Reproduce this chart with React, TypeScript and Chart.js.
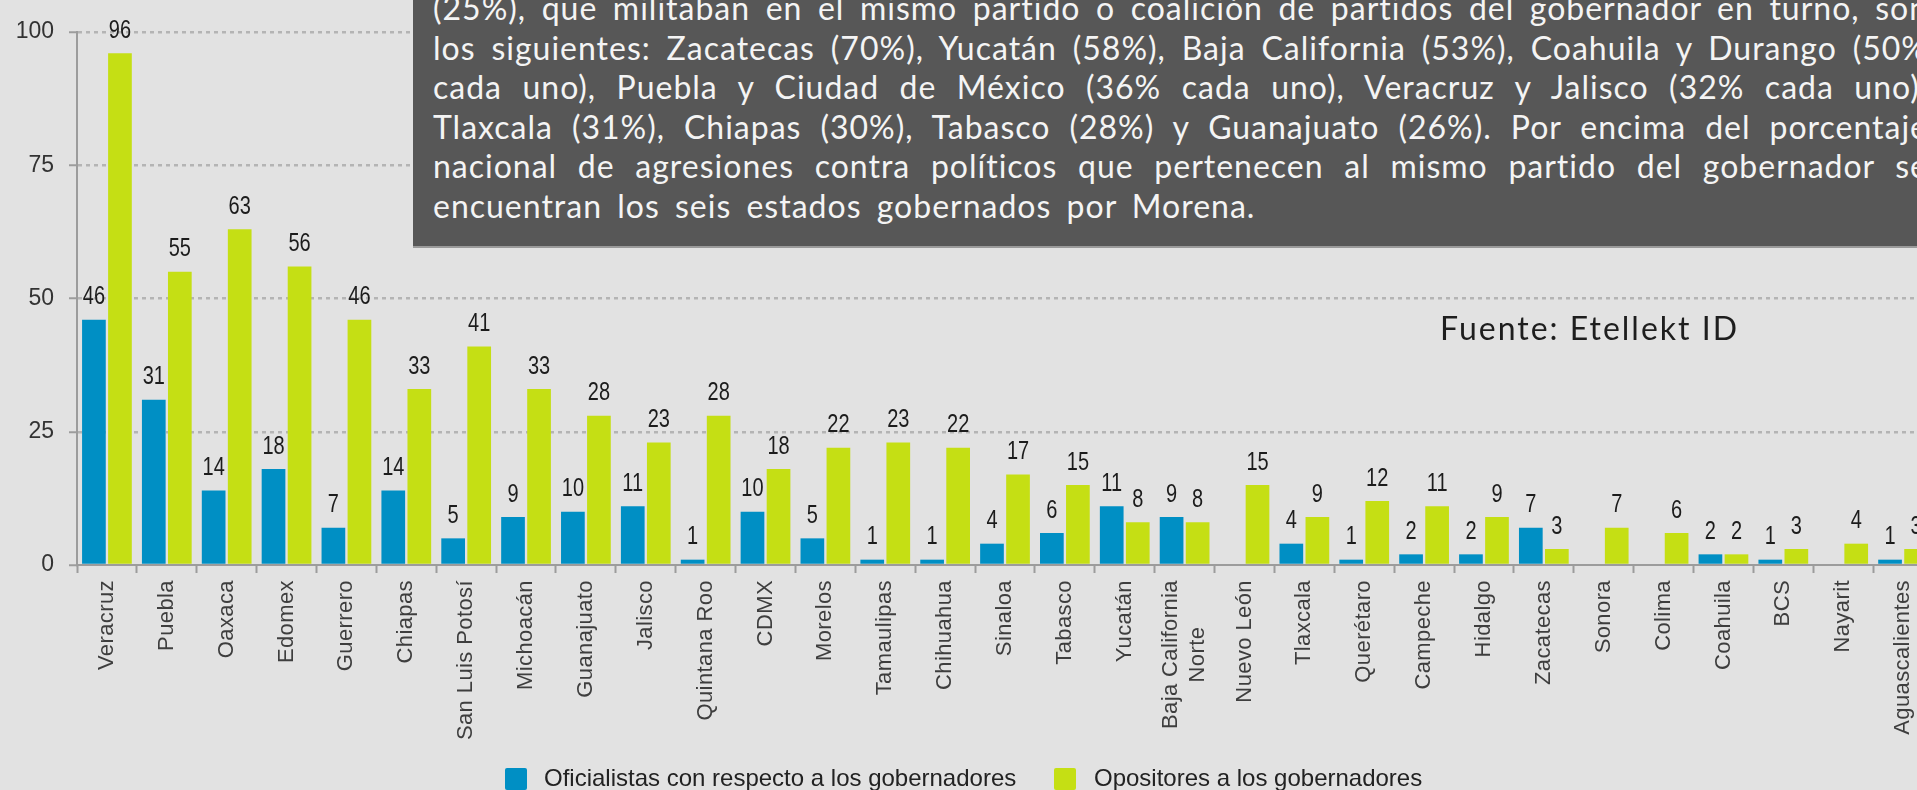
import React, { useEffect, useRef } from "react";
import { Chart, registerables } from "chart.js";

Chart.register(...registerables);

// ---------- data ----------
const categories: (string | string[])[] = [
  "Veracruz", "Puebla", "Oaxaca", "Edomex", "Guerrero", "Chiapas", "San Luis Potosí",
  "Michoacán", "Guanajuato", "Jalisco", "Quintana Roo", "CDMX", "Morelos", "Tamaulipas",
  "Chihuahua", "Sinaloa", "Tabasco", "Yucatán", ["Baja California", "Norte"], "Nuevo León",
  "Tlaxcala", "Querétaro", "Campeche", "Hidalgo", "Zacatecas", "Sonora", "Colima",
  "Coahuila", "BCS", "Nayarit", "Aguascalientes",
];
const oficialistas: (number | null)[] = [
  46, 31, 14, 18, 7, 14, 5, 9, 10, 11, 1, 10, 5, 1, 1, 4, 6, 11, 9, null,
  4, 1, 2, 2, 7, null, null, 2, 1, null, 1,
];
const opositores: (number | null)[] = [
  96, 55, 63, 56, 46, 33, 41, 33, 28, 23, 28, 18, 22, 23, 22, 17, 15, 8, 8, 15,
  9, 12, 11, 9, 3, 7, 6, 2, 3, 4, 3,
];
const yTicks = [0, 25, 50, 75, 100];
const seriesNames = [
  "Oficialistas con respecto a los gobernadores",
  "Opositores a los gobernadores",
];
const noteLines = [
  "(25%), que militaban en el mismo partido o coalición de partidos del gobernador en turno, son",
  "los siguientes: Zacatecas (70%), Yucatán (58%), Baja California (53%), Coahuila y Durango (50%",
  "cada uno), Puebla y Ciudad de México (36% cada uno), Veracruz y Jalisco (32% cada uno),",
  "Tlaxcala (31%), Chiapas (30%), Tabasco (28%) y Guanajuato (26%). Por encima del porcentaje",
  "nacional de agresiones contra políticos que pertenecen al mismo partido del gobernador se",
  "encuentran los seis estados gobernados por Morena.",
];
const sourceText = "Fuente: Etellekt ID";

// ---------- styles ----------
const BLUE = "#008fc4";
const GREEN = "#c5df14";
const BG = "#e2e2e2";
const AXIS = "#9c9c9c";
const GRID = "#b4b4b4";
const TEXT_W = 1495;
const LAST_WS = 6;

const valueLabels = {
  id: "valueLabels",
  afterDatasetsDraw(chart: any) {
    const ctx = chart.ctx;
    ctx.save();
    ctx.font = "25px 'Liberation Sans', Arial, sans-serif";
    ctx.fillStyle = "#1c1c1c";
    ctx.textAlign = "center";
    ctx.textBaseline = "alphabetic";
    chart.data.datasets.forEach((ds: any, di: number) => {
      const meta = chart.getDatasetMeta(di);
      meta.data.forEach((bar: any, i: number) => {
        const v = ds.data[i];
        if (v === null || v === undefined) return;
        ctx.save();
        ctx.translate(bar.x, bar.y - 15.5);
        ctx.scale(0.8, 1);
        ctx.fillText(String(v), 0, 0);
        ctx.restore();
      });
    });
    ctx.restore();
  },
};

const xLabels = {
  id: "xLabels",
  afterDraw(chart: any) {
    const xs = chart.scales.x;
    const ctx = chart.ctx;
    ctx.save();
    ctx.font = "22px 'Liberation Sans', Arial, sans-serif";
    try {
      (ctx as any).letterSpacing = "0.4px";
    } catch (e) {
      /* ignore */
    }
    ctx.fillStyle = "#3e3e3e";
    ctx.textBaseline = "middle";
    ctx.textAlign = "center";
    const top = chart.chartArea.bottom + 15;
    const lh = 27;
    categories.forEach((c, i) => {
      const lines = Array.isArray(c) ? c : [c];
      const px = xs.getPixelForValue(i);
      const w = Math.max(...lines.map((l) => ctx.measureText(l).width));
      ctx.save();
      ctx.translate(px, top);
      ctx.rotate(-Math.PI / 2);
      lines.forEach((l, j) => {
        ctx.fillText(l, -w / 2, (j - (lines.length - 1) / 2) * lh);
      });
      ctx.restore();
    });
    ctx.restore();
  },
};

export default function App() {
  const canvasRef = useRef<HTMLCanvasElement | null>(null);
  const lineRefs = useRef<(HTMLSpanElement | null)[]>([]);

  useEffect(() => {
    const apply = () => {
      lineRefs.current.forEach((el, i) => {
        if (!el) return;
        el.style.wordSpacing = "0px";
        const natural = el.getBoundingClientRect().width;
        const spaces = (noteLines[i].match(/ /g) || []).length || 1;
        const ws = i < noteLines.length - 1 ? (TEXT_W - natural) / spaces : LAST_WS;
        el.style.wordSpacing = ws + "px";
      });
    };
    apply();
    const fonts = (document as any).fonts;
    if (fonts && fonts.ready) fonts.ready.then(apply);
  }, []);

  useEffect(() => {
    if (!canvasRef.current) return;
    const chart = new Chart(canvasRef.current, {
      type: "bar",
      data: {
        labels: categories as any,
        datasets: [
          {
            label: seriesNames[0],
            data: oficialistas as any,
            backgroundColor: BLUE,
            categoryPercentage: 0.87,
            barPercentage: 0.91,
          },
          {
            label: seriesNames[1],
            data: opositores as any,
            backgroundColor: GREEN,
            categoryPercentage: 0.87,
            barPercentage: 0.91,
          },
        ],
      },
      options: {
        animation: false,
        responsive: true,
        maintainAspectRatio: false,
        layout: { padding: { top: 32, left: 0, right: 0, bottom: 0 } },
        plugins: { legend: { display: false }, tooltip: { enabled: false } },
        scales: {
          x: {
            grid: {
              display: true,
              drawOnChartArea: false,
              drawTicks: true,
              tickLength: 8,
              tickColor: AXIS,
              tickWidth: 2,
              offset: true,
            },
            border: { display: true, color: AXIS, width: 2 },
            ticks: { display: false },
            afterFit: (s: any) => {
              s.height = 225;
            },
          },
          y: {
            min: 0,
            max: 100,
            afterBuildTicks: (s: any) => {
              s.ticks = yTicks.map((v) => ({ value: v }));
            },
            grid: {
              color: (c: any) => (c.tick && c.tick.value === 0 ? "rgba(0,0,0,0)" : GRID),
              lineWidth: 2.5,
              drawTicks: true,
              tickLength: 8,
              tickColor: AXIS,
              tickWidth: 2,
            },
            border: { display: true, color: AXIS, width: 2, dash: [4, 4] },
            ticks: {
              color: "#333",
              padding: 15,
              font: { family: "'Liberation Sans', Arial, sans-serif", size: 23 },
            },
            afterFit: (s: any) => {
              s.width = 77;
            },
          },
        },
      },
      plugins: [valueLabels, xLabels],
    } as any);
    return () => chart.destroy();
  }, []);

  const legendText: React.CSSProperties = {
    position: "absolute",
    top: 766,
    fontFamily: "'Liberation Sans', Arial, sans-serif",
    fontSize: 24,
    lineHeight: "24px",
    color: "#222",
    whiteSpace: "nowrap",
  };

  return (
    <div
      style={{
        position: "fixed",
        left: 0,
        top: 0,
        width: "100vw",
        height: "100vh",
        overflow: "hidden",
        background: BG,
      }}
    >
      <div style={{ position: "absolute", left: 0, top: 0, width: 1933, height: 790 }}>
        <canvas ref={canvasRef} />
      </div>

      {/* annotation box */}
      <div
        style={{
          position: "absolute",
          left: 413,
          top: -60,
          width: 1560,
          height: 308,
          background: "#575757",
          borderBottom: "2px solid #9a9a9a",
          boxSizing: "border-box",
          paddingTop: 48,
          paddingLeft: 20,
          fontFamily: "Lato, 'Noto Sans', sans-serif",
          fontSize: 32,
          lineHeight: "39.6px",
          color: "#f4f4f4",
          letterSpacing: "1px",
        }}
      >
        {noteLines.map((l, i) => (
          <div key={i} style={{ height: 39.6, whiteSpace: "nowrap" }}>
            <span
              ref={(el) => {
                lineRefs.current[i] = el;
              }}
              style={{ whiteSpace: "nowrap" }}
            >
              {l}
            </span>
          </div>
        ))}
      </div>

      {/* source */}
      <div
        style={{
          position: "absolute",
          left: 1440,
          top: 312,
          fontFamily: "Lato, 'Noto Sans', sans-serif",
          fontSize: 32,
          lineHeight: "32px",
          letterSpacing: "2px",
          color: "#1e1e1e",
          whiteSpace: "nowrap",
        }}
      >
        {sourceText}
      </div>

      {/* legend */}
      <div style={{ position: "absolute", left: 505, top: 768, width: 22, height: 22, background: BLUE, borderRadius: 2 }} />
      <div style={{ ...legendText, left: 544 }}>{seriesNames[0]}</div>
      <div style={{ position: "absolute", left: 1054, top: 768, width: 22, height: 22, background: GREEN, borderRadius: 2 }} />
      <div style={{ ...legendText, left: 1094 }}>{seriesNames[1]}</div>
    </div>
  );
}
